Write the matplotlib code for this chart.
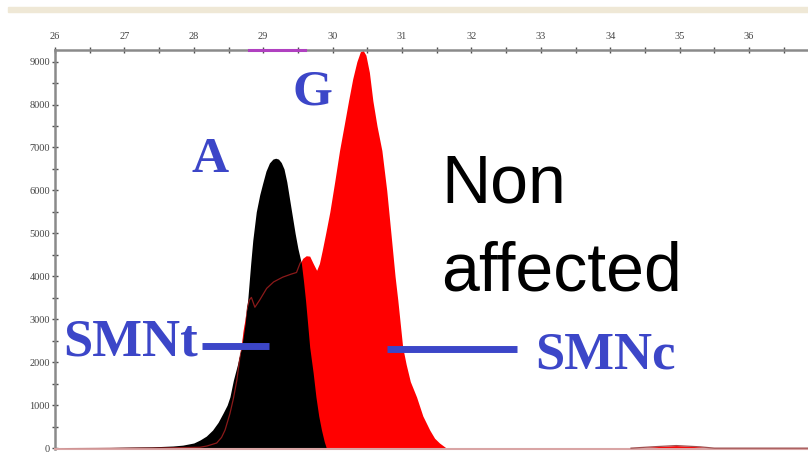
import matplotlib.pyplot as plt
from matplotlib.patches import Rectangle
from matplotlib.ticker import MultipleLocator

# трасса A (черная)
a_x = [26.0, 26.6, 27.0, 27.4, 27.7, 27.84, 28.0, 28.09, 28.18, 28.27, 28.35,
       28.42, 28.48, 28.52, 28.57, 28.63, 28.69, 28.74, 28.78, 28.82, 28.85,
       28.90, 28.95, 28.99, 29.04, 29.09, 29.14, 29.18, 29.22, 29.26, 29.30,
       29.34, 29.38, 29.42, 29.46, 29.50, 29.55, 29.58, 29.61, 29.64, 29.67,
       29.72, 29.76, 29.80, 29.84, 29.88, 29.91, 36.85]
a_y = [0, 10, 20, 30, 50, 70, 120, 190, 280, 420, 600,
       810, 1000, 1190, 1580, 1950, 2350, 2900, 3510, 4300, 4840,
       5500, 5900, 6150, 6450, 6640, 6730, 6750, 6730, 6650, 6500,
       6200, 5800, 5400, 5000, 4650, 4300, 3900, 3440, 2900, 2350,
       1750, 1190, 750, 420, 150, 0, 0]

# трасса G (красная)
g_x = [26.0, 27.4, 28.09, 28.19, 28.33, 28.40, 28.45, 28.52, 28.57, 28.62, 28.67,
       28.71, 28.76, 28.80, 28.83, 28.88, 28.95, 29.05, 29.15, 29.28, 29.40,
       29.48, 29.53, 29.57, 29.62, 29.67, 29.72, 29.77, 29.81, 29.85, 29.90,
       29.96, 30.03, 30.10, 30.17, 30.23, 30.29, 30.35, 30.40, 30.44, 30.48,
       30.53, 30.58, 30.64, 30.71, 30.78, 30.85, 30.90, 30.94, 31.01, 31.06,
       31.12, 31.21, 31.30, 31.40, 31.47, 31.54, 31.64, 34.3, 34.6, 34.95,
       35.3, 35.5, 36.85]
g_y = [0, 0, 20, 50, 120, 250, 420, 800, 1150, 1580, 2200,
       2740, 3200, 3450, 3510, 3280, 3450, 3720, 3870, 3980, 4050,
       4090, 4300, 4420, 4480, 4470, 4300, 4140, 4300, 4600, 5000,
       5500, 6200, 6930, 7550, 8090, 8600, 9000, 9230, 9260, 9150,
       8750, 8090, 7500, 6930, 6000, 4840, 4000, 3440, 2350, 1950,
       1550, 1190, 750, 420, 230, 120, 0, 0, 30, 60,
       30, 0, 0]

bin_a = (28.8, 29.6)
x_ticks = list(range(26, 37))
y_ticks = list(range(0, 10000, 1000))

blue = '#3c46c8'

fig = plt.figure(figsize=(8.08, 4.53), dpi=100)
# полоска окна сверху
fig.patches.append(Rectangle((8 / 808, 1 - 12 / 453), 1, 5 / 453,
                             transform=fig.transFigure, color='#efe8d6', zorder=0))

ax = fig.add_axes([55 / 808, 1 - 449 / 453, 1 - 55 / 808, 399 / 453])
ax.set_xlim(26, 36.85)
ax.set_ylim(-20, 9270)

ax.fill_between(g_x, g_y, color='#ff0000', lw=0, zorder=1)
black = ax.fill_between(a_x, a_y, color='black', lw=0, zorder=2)
# контур G виден только поверх черной заливки
g_line, = ax.plot(g_x, g_y, color='#8b1a1a', lw=0.9, zorder=3)
g_line.set_clip_path(black.get_paths()[0], ax.transData)
ax.plot(g_x[-6:], g_y[-6:], color='#a05050', lw=0.9, zorder=3)

# отметка бина на верхней оси
ax.plot(bin_a, [9270, 9270], color='#b040c0', lw=2.2, clip_on=False, zorder=5)

ax.xaxis.tick_top()
ax.set_xticks(x_ticks)
ax.set_yticks(y_ticks)
ax.xaxis.set_minor_locator(MultipleLocator(0.5))
ax.yaxis.set_minor_locator(MultipleLocator(500))
ax.tick_params(which='both', direction='inout', length=5, width=1, color='#505050',
               labelsize=7.5, labelcolor='#444444')
ax.tick_params(axis='x', pad=4)
ax.tick_params(axis='y', pad=1)
for lbl in ax.get_xticklabels() + ax.get_yticklabels():
    lbl.set_family('Liberation Serif')

for s in ['top', 'left']:
    ax.spines[s].set_color('#8a8a8a')
    ax.spines[s].set_linewidth(1.8)
ax.spines['right'].set_visible(False)
ax.spines['bottom'].set_color('#d9a5a5')
ax.spines['bottom'].set_linewidth(1.5)

# подписи
lab = dict(color=blue, family='Liberation Serif', weight='bold', ha='center', va='center')
ax.text(28.24, 6700, 'A', fontsize=37, **lab)
ax.text(29.71, 8280, 'G', fontsize=37, **lab)
ax.text(27.09, 2465, 'SMNt', fontsize=38, **lab)
ax.text(33.93, 2160, 'SMNc', fontsize=38, **lab)
ax.plot([28.12, 29.09], [2370, 2370], color=blue, lw=5, solid_capstyle='butt', zorder=4)
ax.plot([30.79, 32.66], [2300, 2300], color=blue, lw=5, solid_capstyle='butt', zorder=4)

ax.text(31.57, 5720, 'Non', fontsize=49, family='Liberation Sans', va='baseline')
ax.text(31.57, 3670, 'affected', fontsize=49, family='Liberation Sans', va='baseline')

fig.savefig('out.png', dpi=100)
